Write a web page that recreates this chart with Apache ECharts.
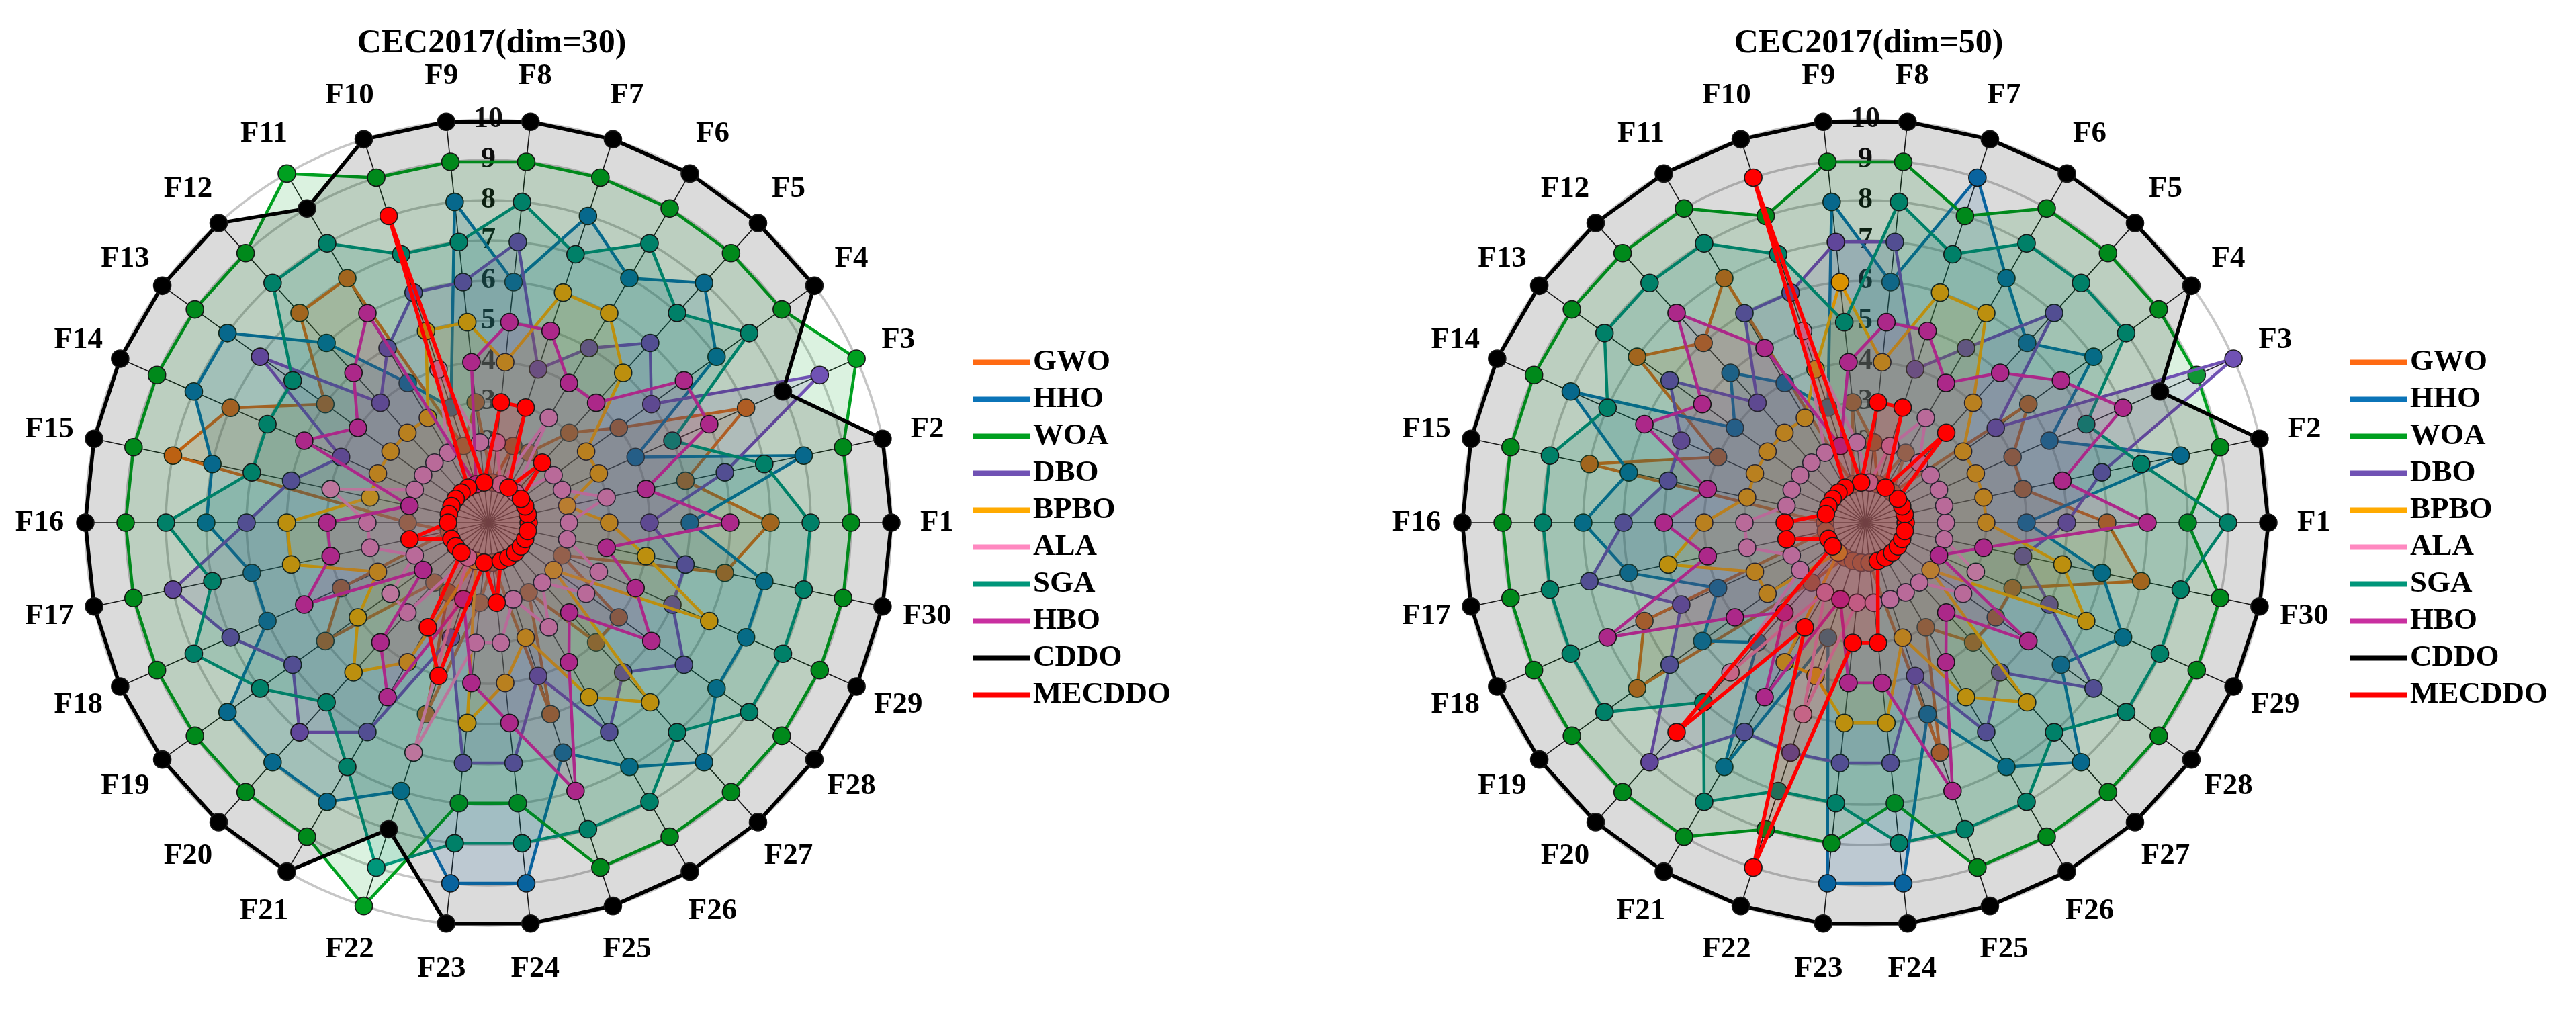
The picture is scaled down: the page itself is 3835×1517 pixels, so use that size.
<!DOCTYPE html>
<html>
<head>
<meta charset="utf-8">
<title>CEC2017 rank radar</title>
<script src="https://cdn.jsdelivr.net/npm/echarts@6/dist/echarts.min.js"></script>
<style>
    html, body { margin: 0; padding: 0; background: #fff; }
    #main { width: 3835px; height: 1517px; }
</style>
</head>
<body>
<div id="main"></div>
<script>
    var functions = ['F1', 'F2', 'F3', 'F4', 'F5', 'F6', 'F7', 'F8', 'F9', 'F10',
        'F11', 'F12', 'F13', 'F14', 'F15', 'F16', 'F17', 'F18', 'F19', 'F20',
        'F21', 'F22', 'F23', 'F24', 'F25', 'F26', 'F27', 'F28', 'F29', 'F30'];
    var algorithms = ['GWO', 'HHO', 'WOA', 'DBO', 'BPBO', 'ALA', 'SGA', 'HBO', 'CDDO', 'MECDDO'];
    var rankMin = 0;
    var rankMax = 10;

    // ranks, dim = 30
    var gwo30 = [7, 5, 7, 4, 3, 2, 2, 1, 3, 2, 7, 7, 5, 7, 8, 2, 1, 4, 5, 2, 2, 5, 2, 1, 5, 2, 4, 4, 2, 6];
    var hho30 = [5, 8, 4, 7, 8, 7, 8, 6, 8, 3, 4, 6, 8, 8, 7, 7, 6, 6, 8, 8, 8, 7, 9, 9, 6, 7, 8, 7, 7, 7];
    var woa30 = [9, 9, 10, 9, 9, 9, 9, 9, 9, 9, 10, 9, 9, 9, 9, 9, 9, 9, 9, 9, 9, 10, 7, 7, 9, 9, 9, 9, 9, 9];
    var dbo30 = [4, 6, 9, 5, 6, 5, 4, 7, 6, 6, 5, 4, 7, 4, 5, 6, 8, 7, 6, 7, 6, 3, 6, 6, 4, 6, 5, 6, 5, 5];
    var bpbo30 = [3, 2, 3, 3, 5, 6, 6, 4, 5, 5, 3, 3, 3, 3, 3, 5, 5, 3, 4, 5, 4, 1, 5, 4, 3, 5, 6, 2, 6, 4];
    var ala30 = [2, 3, 2, 2, 1, 3, 1, 2, 2, 4, 2, 2, 2, 2, 4, 3, 3, 2, 3, 3, 1, 6, 3, 3, 2, 3, 2, 3, 3, 2];
    var sga30 = [8, 7, 5, 8, 7, 8, 7, 8, 7, 7, 8, 8, 6, 6, 6, 8, 7, 8, 7, 6, 7, 9, 8, 8, 8, 8, 7, 8, 8, 8];
    var hbo30 = [6, 4, 6, 6, 4, 4, 5, 5, 4, 1, 6, 5, 4, 5, 2, 4, 4, 5, 2, 4, 5, 2, 4, 5, 7, 4, 3, 5, 4, 3];
    var cddo30 = [10, 10, 8, 10, 10, 10, 10, 10, 10, 10, 9, 10, 10, 10, 10, 10, 10, 10, 10, 10, 10, 8, 10, 10, 10, 10, 10, 10, 10, 10];
    var mec30 = [1, 1, 1, 1, 2, 1, 3, 3, 1, 8, 1, 1, 1, 1, 1, 1, 2, 1, 1, 1, 3, 4, 1, 2, 1, 1, 1, 1, 1, 1];

    // ranks, dim = 50
    var gwo50 = [6, 4, 4, 5, 1, 2, 1, 2, 3, 1, 7, 6, 7, 4, 7, 1, 1, 6, 7, 2, 1, 1, 1, 1, 6, 3, 4, 4, 4, 7];
    var hho50 = [4, 8, 5, 7, 6, 7, 9, 6, 8, 3, 4, 5, 4, 8, 6, 7, 6, 4, 5, 4, 7, 3, 9, 9, 5, 7, 8, 6, 7, 6];
    var woa50 = [8, 9, 9, 9, 9, 9, 8, 9, 9, 8, 9, 9, 9, 9, 9, 9, 9, 9, 9, 9, 9, 8, 8, 7, 9, 9, 9, 9, 9, 9];
    var dbo50 = [5, 6, 10, 4, 7, 5, 4, 7, 7, 6, 6, 4, 6, 5, 5, 6, 7, 5, 6, 8, 6, 6, 6, 6, 4, 6, 5, 7, 5, 4];
    var bpbo50 = [3, 3, 3, 3, 4, 6, 6, 4, 6, 4, 3, 3, 3, 3, 3, 4, 5, 3, 3, 1, 4, 4, 5, 5, 3, 5, 6, 2, 6, 5];
    var ala50 = [2, 2, 2, 2, 2, 3, 2, 1, 2, 5, 2, 2, 2, 2, 2, 3, 3, 2, 2, 5, 2, 5, 2, 2, 2, 2, 2, 3, 3, 2];
    var sga50 = [9, 7, 6, 8, 8, 8, 7, 8, 5, 7, 8, 8, 8, 7, 8, 8, 8, 8, 8, 6, 8, 7, 7, 8, 8, 8, 7, 8, 8, 8];
    var hbo50 = [7, 5, 7, 6, 5, 4, 5, 5, 4, 2, 5, 7, 5, 6, 4, 5, 4, 7, 4, 3, 5, 2, 4, 4, 7, 4, 3, 5, 2, 3];
    var cddo50 = [10, 10, 8, 10, 10, 10, 10, 10, 10, 10, 10, 10, 10, 10, 10, 10, 10, 10, 10, 10, 10, 10, 10, 10, 10, 10, 10, 10, 10, 10];
    var mec50 = [1, 1, 1, 1, 3, 1, 3, 3, 1, 9, 1, 1, 1, 1, 1, 2, 2, 1, 1, 7, 3, 9, 3, 3, 1, 1, 1, 1, 1, 1];

    var ranks30 = [gwo30, hho30, woa30, dbo30, bpbo30, ala30, sga30, hbo30, cddo30, mec30];
    var ranks50 = [gwo50, hho50, woa50, dbo50, bpbo50, ala50, sga50, hbo50, cddo50, mec50];

    var colors = ['#ff6a13', '#0b74b8', '#00a020', '#7052b4', '#ffaa00', '#ff88c0', '#00967a', '#c92fa0', '#000000', '#ff0000'];
    var font = 'Liberation Serif';
    var cy = 778;
    var R = 600;

    var myChart = echarts.init(document.getElementById('main'));

    function mainRadar(cx) {
        return {
            center: [cx, cy],
            radius: R,
            startAngle: 0,
            splitNumber: 10,
            shape: 'circle',
            indicator: functions.map(function (f) {
                return { name: f, min: rankMin, max: rankMax };
            }),
            nameGap: 68,
            axisName: {
                color: '#000',
                fontFamily: font,
                fontWeight: 'bold',
                fontSize: 45,
                align: 'center',
                verticalAlign: 'middle'
            },
            axisLine: { lineStyle: { color: '#1a1a1a', width: 1.6 } },
            splitLine: { lineStyle: { color: '#c6c6c6', width: 3.5 } },
            splitArea: { show: false },
            axisTick: { show: false },
            axisLabel: { show: false }
        };
    }

    // one extra axis straight up, only used for the 1..10 tick labels
    function tickRadar(cx) {
        return {
            center: [cx, cy],
            radius: R,
            startAngle: 90,
            splitNumber: 10,
            shape: 'circle',
            indicator: [{ name: '', min: rankMin, max: rankMax }],
            axisName: { show: false },
            axisLine: { show: false },
            splitLine: { show: false },
            splitArea: { show: false },
            axisTick: { show: false },
            axisLabel: {
                show: true,
                margin: 0,
                align: 'center',
                verticalAlign: 'middle',
                padding: [0, 0, 20, 0],
                color: '#111',
                fontFamily: font,
                fontWeight: 'bold',
                fontSize: 44,
                formatter: function (v) {
                    return v > 0 ? String(v) : '';
                }
            }
        };
    }

    // each series gets its own z so later fills tint the earlier markers
    function buildSeries(radarIndex, ranks) {
        return algorithms.map(function (name, i) {
            var thick = name === 'CDDO' || name === 'MECDDO';
            return {
                name: name,
                type: 'radar',
                radarIndex: radarIndex,
                z: 2 + i,
                symbol: 'circle',
                symbolSize: 26,
                lineStyle: { color: colors[i], width: thick ? 5.5 : 4.5 },
                itemStyle: { color: colors[i], borderColor: '#1a1a1a', borderWidth: 1.6 },
                areaStyle: { color: colors[i], opacity: 0.14 },
                data: [{ name: name, value: ranks[i] }]
            };
        });
    }

    function legendAt(left) {
        return {
            orient: 'vertical',
            left: left,
            top: 517,
            padding: 0,
            itemGap: 10,
            icon: 'rect',
            itemWidth: 84,
            itemHeight: 8,
            itemStyle: { borderWidth: 0 },
            data: algorithms,
            textStyle: { color: '#000', fontFamily: font, fontWeight: 'bold', fontSize: 45 }
        };
    }

    function titleAt(left, text) {
        return {
            text: text,
            left: left,
            top: 35,
            textAlign: 'center',
            textStyle: { color: '#000', fontFamily: font, fontWeight: 'bold', fontSize: 50 }
        };
    }

    var option = {
        animation: false,
        backgroundColor: '#fff',
        title: [titleAt(727, 'CEC2017(dim=30)'), titleAt(2777, 'CEC2017(dim=50)')],
        legend: [legendAt(1449), legendAt(3499)],
        radar: [mainRadar(727), mainRadar(2777), tickRadar(727), tickRadar(2777)],
        series: buildSeries(0, ranks30).concat(buildSeries(1, ranks50))
    };
    myChart.setOption(option);

    window.addEventListener('resize', function () {
        myChart.resize();
    });
</script>
</body>
</html>
